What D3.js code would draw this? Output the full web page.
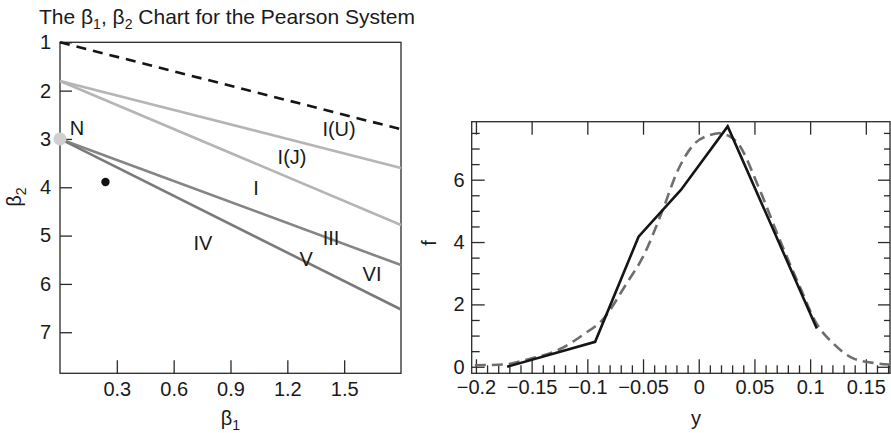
<!DOCTYPE html>
<html><head><meta charset="utf-8">
<script src="https://cdn.jsdelivr.net/npm/d3@7"></script>
<style>
body{margin:0;background:#fff}
svg text{font-family:"Liberation Sans",Arial,Helvetica,sans-serif;fill:#1a1a1a}
</style>
</head><body>
<svg id="c" width="891" height="433"></svg>
<script>
// ---------- Left panel data (beta1, beta2 chart) ----------
const b1Ticks = [0.3, 0.6, 0.9, 1.2, 1.5];
const b2Ticks = [1, 2, 3, 4, 5, 6, 7];
const lineNames   = ["limit", "I(U)", "I(J)", "III", "V"];
const lineB1      = [0, 1.8];
const lineStartB2 = [1, 1.8, 1.8, 3, 3];
const lineEndB2   = [2.8, 3.6, 4.78, 5.61, 6.53];
const regionLabels = ["N", "I(U)", "I(J)", "I", "III", "IV", "V", "VI"];
const regionB1     = [0.09, 1.473, 1.225, 1.035, 1.431, 0.755, 1.299, 1.647];
const regionB2     = [2.77, 2.795, 3.375, 4.02, 5.05, 5.155, 5.487, 5.797];
const normalPoint  = [0, 3];
const samplePoint  = [0.24, 3.89];

// ---------- Right panel data (density) ----------
const yTicks = [-0.2, -0.15, -0.1, -0.05, 0, 0.05, 0.1, 0.15];
const fTicks = [0, 2, 4, 6];
const yObs = [-0.172, -0.093, -0.054, -0.016, 0.026, 0.106];
const fObs = [0, 0.80, 4.17, 5.67, 7.71, 1.23];
const yFit = [-0.201, -0.176, -0.152, -0.125, -0.102, -0.087, -0.0648, -0.05, -0.0335, -0.0186, -0.005, 0.01, 0.018, 0.026, 0.034, 0.0548, 0.0727, 0.0907, 0.1057, 0.1207, 0.1387, 0.1597, 0.1715];
const fFit = [0.05, 0.07, 0.25, 0.56, 1.07, 1.48, 2.67, 3.53, 4.92, 6.31, 7.11, 7.43, 7.49, 7.42, 7.22, 5.67, 4.07, 2.57, 1.39, 0.75, 0.27, 0.11, 0.07];

const svg = d3.select("#c");
const FS = 20;
const SUB = 14;
const frameColor = "#2a2a2a";

// ====== Left panel ======
const L = {x0: 60, x1: 401, y0: 42.3, y1: 373.3};
const xL = d3.scaleLinear().domain([0, 1.8]).range([L.x0, L.x1]);
const yL = d3.scaleLinear().domain([1, 7.85]).range([L.y0, L.y1]);
const gL = svg.append("g");

const axL = gL.append("g").attr("transform", `translate(${L.x0},0)`)
  .call(d3.axisLeft(yL).tickValues(b2Ticks).tickSize(-12).tickPadding(9).tickFormat(d3.format("d")));
const axB = gL.append("g").attr("transform", `translate(0,${L.y1})`)
  .call(d3.axisBottom(xL).tickValues(b1Ticks).tickSize(-13).tickPadding(9).tickFormat(d3.format(".1f")));
[axL, axB].forEach(a => {
  a.select(".domain").remove();
  a.selectAll("line").attr("stroke", frameColor).attr("stroke-width", 1.3);
  a.selectAll("text").attr("font-size", FS).attr("font-family", "Liberation Sans, Arial, sans-serif").attr("fill", "#1a1a1a");
});
gL.append("rect").attr("x", L.x0).attr("y", L.y0).attr("width", L.x1 - L.x0).attr("height", L.y1 - L.y0)
  .attr("fill", "none").attr("stroke", frameColor).attr("stroke-width", 1.3);

const lineStyles = {
  "limit": {c: "#151515", d: "10,7"},
  "I(U)": {c: "#b5b5b5", d: null},
  "I(J)": {c: "#b5b5b5", d: null},
  "III": {c: "#858585", d: null},
  "V": {c: "#7a7a7a", d: null}
};
const segLine = d3.line().x(d => xL(d[0])).y(d => yL(d[1]));
lineNames.forEach((n, i) => {
  const p = gL.append("path")
    .attr("d", segLine([[lineB1[0], lineStartB2[i]], [lineB1[1], lineEndB2[i]]]))
    .attr("fill", "none").attr("stroke", lineStyles[n].c).attr("stroke-width", 2.6);
  if (lineStyles[n].d) p.attr("stroke-dasharray", lineStyles[n].d);
});
gL.append("circle").attr("cx", xL(normalPoint[0])).attr("cy", yL(normalPoint[1])).attr("r", 6.5).attr("fill", "#cfcfcf");
gL.append("circle").attr("cx", xL(samplePoint[0])).attr("cy", yL(samplePoint[1])).attr("r", 4.2).attr("fill", "#111");
regionLabels.forEach((t, i) => {
  gL.append("text").attr("x", xL(regionB1[i])).attr("y", yL(regionB2[i]))
    .attr("text-anchor", "middle").attr("dominant-baseline", "central").attr("font-size", FS).text(t);
});

// axis titles
const t1 = gL.append("text").attr("x", (L.x0 + L.x1) / 2).attr("y", 425).attr("text-anchor", "middle").attr("font-size", FS);
t1.append("tspan").text("β");
t1.append("tspan").attr("font-size", SUB).attr("dy", 5).text("1");
const t2 = gL.append("text").attr("transform", "translate(21,197) rotate(-90)").attr("text-anchor", "middle").attr("font-size", FS);
t2.append("tspan").text("β");
t2.append("tspan").attr("font-size", SUB).attr("dy", 5).text("2");

// title
const tt = svg.append("text").attr("x", 39).attr("y", 24).attr("font-size", 21);
tt.append("tspan").text("The β");
tt.append("tspan").attr("font-size", SUB).attr("dy", 5).text("1");
tt.append("tspan").attr("dy", -5).text(", β");
tt.append("tspan").attr("font-size", SUB).attr("dy", 5).text("2");
tt.append("tspan").attr("dy", -5).text(" Chart for the Pearson System");

// ====== Right panel ======
const R = {x0: 471.7, x1: 890, y0: 121.7, y1: 373.3};
const xR = d3.scaleLinear().domain([-0.2038, 0.1717]).range([R.x0, R.x1]);
const yR = d3.scaleLinear().domain([-0.21, 7.86]).range([R.y1, R.y0]);
const gR = svg.append("g");
const fmtY = v => (v < 0 ? "\u2212" : "") + String(Math.abs(+v.toFixed(2)));
const minorF = d3.range(0, 7.51, 0.5).filter(v => v % 2 !== 0);
const minorY = d3.range(-0.2, 0.1701, 0.01).filter(v => Math.abs(Math.round(v * 20) - v * 20) > 1e-6);

const axes = [];
axes.push(gR.append("g").attr("transform", `translate(${R.x0},0)`)
  .call(d3.axisLeft(yR).tickValues(fTicks).tickSize(-13).tickPadding(7).tickFormat(d3.format("d"))));
axes.push(gR.append("g").attr("transform", `translate(${R.x0},0)`)
  .call(d3.axisLeft(yR).tickValues(minorF).tickSize(-8).tickFormat("")));
axes.push(gR.append("g").attr("transform", `translate(${R.x1},0)`)
  .call(d3.axisRight(yR).tickValues(fTicks).tickSize(-12).tickFormat("")));
axes.push(gR.append("g").attr("transform", `translate(${R.x1},0)`)
  .call(d3.axisRight(yR).tickValues(minorF).tickSize(-6).tickFormat("")));
axes.push(gR.append("g").attr("transform", `translate(0,${R.y1})`)
  .call(d3.axisBottom(xR).tickValues(yTicks).tickSize(-14).tickPadding(7).tickFormat(fmtY)));
axes.push(gR.append("g").attr("transform", `translate(0,${R.y1})`)
  .call(d3.axisBottom(xR).tickValues(minorY).tickSize(-8).tickFormat("")));
axes.push(gR.append("g").attr("transform", `translate(0,${R.y0})`)
  .call(d3.axisTop(xR).tickValues(yTicks).tickSize(-13).tickFormat("")));
axes.forEach(a => {
  a.select(".domain").remove();
  a.selectAll("line").attr("stroke", frameColor).attr("stroke-width", 1.3);
  a.selectAll("text").attr("font-size", FS).attr("font-family", "Liberation Sans, Arial, sans-serif").attr("fill", "#1a1a1a");
});
gR.append("rect").attr("x", R.x0).attr("y", R.y0).attr("width", R.x1 - R.x0).attr("height", R.y1 - R.y0)
  .attr("fill", "none").attr("stroke", frameColor).attr("stroke-width", 1.3);

const fitLine = d3.line().x((d, i) => xR(yFit[i])).y((d, i) => yR(fFit[i])).curve(d3.curveMonotoneX);
gR.append("path").attr("d", fitLine(yFit)).attr("fill", "none").attr("stroke", "#6e6e6e")
  .attr("stroke-width", 2.6).attr("stroke-dasharray", "11,6");
const obsLine = d3.line().x((d, i) => xR(yObs[i])).y((d, i) => yR(fObs[i]));
gR.append("path").attr("d", obsLine(yObs)).attr("fill", "none").attr("stroke", "#151515").attr("stroke-width", 2.6)
  .attr("stroke-linejoin", "miter");

gR.append("text").attr("transform", "translate(436,243) rotate(-90)").attr("text-anchor", "middle").attr("font-size", FS).text("f");
gR.append("text").attr("x", 696).attr("y", 425).attr("text-anchor", "middle").attr("font-size", FS).text("y");
</script>
</body></html>
